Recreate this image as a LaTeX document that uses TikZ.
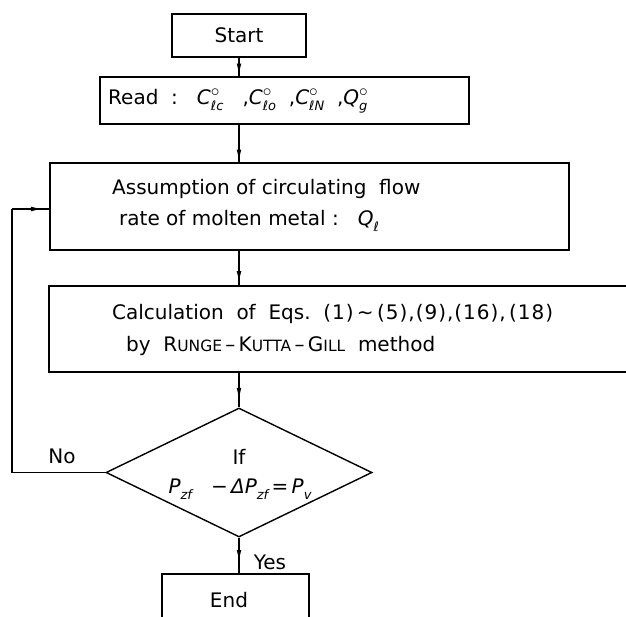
\documentclass[tikz,border=0pt]{standalone}
\usepackage{fontspec}
\setmainfont{DejaVu Sans}
\usetikzlibrary{shapes.geometric,calc}
\newcommand\ssub[1]{\raisebox{-0.32em}{\fontsize{13}{13}\selectfont\itshape #1}}
\newcommand\sdeg{\raisebox{0.42em}{\fontsize{19}{19}\selectfont$\circ$}}
\newcommand\svar[2]{\textit{#1}\rlap{\sdeg}\ssub{#2}}
\newcommand\smc[1]{{\fontsize{15.5}{16}\selectfont #1}}
% vertical connector with a downward arrowhead part-way
\newcommand\downarr[3]{\draw[conn] (#1) -- (#2);
  \fill ($(#1)!#3!(#2)$) -- ++(-2.3,-9) -- ++(4.6,0) -- cycle;}
% horizontal connector with a rightward arrowhead part-way
\newcommand\rightarr[3]{\draw[conn] (#1) -- (#2);
  \fill ($(#1)!#3!(#2)$) -- ++(-9,-2.3) -- ++(0,4.6) -- cycle;}
\begin{document}
\begin{tikzpicture}[x=1pt,y=-1pt,
  box/.style={draw, line width=1.4pt, inner sep=0pt},
  txt/.style={inner sep=0pt, anchor=west, font=\fontsize{20}{24}\selectfont},
  lbl/.style={inner sep=0pt, font=\fontsize{20}{24}\selectfont},
  conn/.style={line width=1.1pt}]
\useasboundingbox (0,0) rectangle (626,617);
\clip (0,0) rectangle (626,617);
% boxes
\node[box, minimum width=134pt, minimum height=43pt, font=\fontsize{20}{24}\selectfont] (start) at (239,35.5) {Start};
\node[box, minimum width=369pt, minimum height=47pt] (read) at (284.5,100.5) {};
\node[box, minimum width=519pt, minimum height=87pt] (assume) at (309.5,206.5) {};
\node[box, minimum width=611pt, minimum height=86pt] (calc) at (354.5,329) {};
\node[box, shape=diamond, minimum width=266pt, minimum height=129pt] (dia) at (239,472.5) {};
\node[box, minimum width=147pt, minimum height=66pt] (endb) at (235.5,607) {};
% texts
\node[txt] (readt) at (108,101) {Read\ \ :\ \ \ \svar{C}{ℓc}\ \ \ ,\svar{C}{ℓo}\ \ ,\svar{C}{ℓN}\ \ ,\svar{Q}{g}};
\node[txt] (as1) at (112,189) {Assumption\ of\ circulating\ \ flow};
\node[txt] (as2) at (119,221) {rate\ of\ molten\ metal\ :\ \ \ \textit{Q}\ssub{ℓ}};
\node[txt] (ca1) at (112,314) {Calculation\ \ of\ \ Eqs.\ \ {\addfontfeature{LetterSpace=5}(1)\,∼\,(5),(9),(16),\,(18)}};
\node[txt] (ca2) at (126,346) {by\ \ R\smc{UNGE}\,–\,K\smc{UTTA}\,–\,G\smc{ILL}\ \ method};
\node[lbl] (ift) at (239,457) {If};
\node[lbl] (cond) at (240,489) {\textit{P}\ssub{zf}\ \ \ −\,\textit{ΔP}\ssub{zf}\,=\,\textit{P}\ssub{v}};
\node[lbl] (endt) at (229,600) {End};
\node[lbl] (no) at (62,456) {No};
\node[lbl] (yes) at (270,562) {Yes};
% connectors
\downarr{start.south}{start.south |- read.north}{0.8}
\downarr{start.south |- read.south}{start.south |- assume.north}{0.9}
\downarr{start.south |- assume.south}{start.south |- calc.north}{0.85}
\downarr{dia.north |- calc.south}{dia.north}{0.7}
\downarr{dia.south}{dia.south |- endb.north}{0.6}
\coordinate (lc) at (12,209);
\draw[conn] (dia.west) -| (lc);
\rightarr{lc}{lc -| assume.west}{0.75}
\end{tikzpicture}
\end{document}
